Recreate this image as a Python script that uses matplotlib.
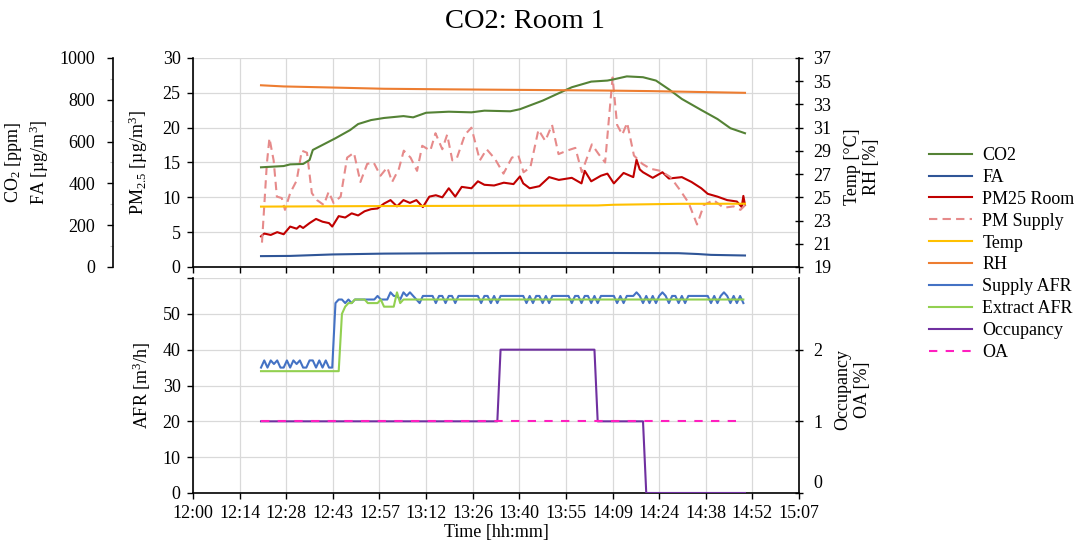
import numpy as np
import matplotlib
matplotlib.use("Agg")
import matplotlib.pyplot as plt
import matplotlib.transforms as mtransforms
from matplotlib.ticker import MultipleLocator

plt.rcParams['font.family'] = ['Liberation Serif', 'DejaVu Serif']
plt.rcParams['mathtext.fontset'] = 'custom'
plt.rcParams['mathtext.rm'] = 'Liberation Serif'
plt.rcParams['mathtext.it'] = 'Liberation Serif:italic'
plt.rcParams['font.size'] = 13

# time axis: minutes after 12:00
x_tick_labels = ["12:00", "12:14", "12:28", "12:43", "12:57", "13:12", "13:26",
                 "13:40", "13:55", "14:09", "14:24", "14:38", "14:52", "15:07"]

# --- top panel data ---
co2_t = [21, 28, 30, 34, 36, 37, 40, 44, 48.5, 51, 55, 59, 65, 68, 72, 79, 86, 90,
         98, 101, 108, 117, 123, 128, 130, 134, 139, 143, 147, 151, 157, 162, 166, 170.5]
co2 = [477, 483, 491, 493, 512, 560, 584, 616, 655, 684, 703, 713, 722, 716, 738, 743, 740, 748,
       745, 755, 796, 860, 887, 892, 898, 912, 908, 892, 850, 804, 751, 708, 664, 640]

fa_t = [21, 30, 43, 59, 80, 100, 130, 150, 156, 160, 170.5]
fa = [52, 53, 60, 64, 66, 67, 67, 66, 62, 58, 55]

pm_room_t = [21, 22, 24, 26, 28, 30, 32, 33, 34, 36, 38, 40, 42, 43, 45, 47, 49, 51, 53, 55,
             57, 59, 61, 63, 65, 67, 69, 71, 73, 75, 77, 79, 81, 83, 86, 88, 90, 93, 96, 99,
             101, 102, 104, 107, 110, 113, 117, 120, 121, 123, 126, 128, 130, 133, 136, 137, 138, 139,
             142, 145, 147, 151, 154, 157, 159, 162, 165, 168, 169.5, 170, 170.5]
pm_room = [4.4, 4.8, 4.6, 5.0, 4.7, 5.8, 5.5, 5.9, 5.6, 6.3, 6.9, 6.5, 6.3, 5.8, 7.3, 7.1, 7.7, 7.4, 8.0, 8.3,
           8.4, 9.1, 9.6, 8.7, 9.6, 9.2, 9.6, 8.6, 10.1, 10.3, 10.0, 11.3, 10.1, 11.5, 11.3, 12.3, 11.8, 11.7, 12.1, 11.9,
           13.0, 12.0, 11.3, 11.6, 12.9, 12.5, 12.8, 12.0, 13.8, 12.3, 13.1, 13.4, 12.0, 13.5, 12.9, 15.4, 14.0, 13.6,
           12.8, 13.6, 12.7, 12.9, 12.2, 11.3, 10.5, 10.1, 9.6, 9.4, 8.6, 10.2, 8.9]

pm_sup_t = [21.3, 22.8, 23.6, 24.9, 25.9, 27.4, 28.4, 30, 32, 33.6, 35.2, 36.7, 38.3, 40.4, 41.9,
            43.4, 45.6, 47.6, 49.7, 51.7, 53.8, 55.8, 57.9, 60, 61.5, 63.6, 65.1, 67.2, 69.2, 70.8,
            73.3, 74.9, 77, 78.5, 80.1, 81.4, 84, 86, 88.6, 90.7, 93.3, 95.9, 98.5, 100.5, 102.1,
            104.2, 106.7, 108.8, 110.9, 112.9, 115.5, 118.1, 120.1, 123.2, 125.3, 127.3, 128.4, 129.6, 131, 132.6,
            134.1, 136.2, 138.8, 141.3, 144.4, 147.5, 150.5, 153.1, 155.7, 157.8, 160.8, 163.9, 167, 169.1, 170.6]
pm_sup = [3.5, 14.8, 18.5, 15.3, 10.1, 9.9, 8.2, 10.6, 12.4, 16.7, 16.4, 10.6, 9.6, 8.9, 10.8,
          9.2, 10.1, 15.7, 16.4, 12.2, 14.8, 15.0, 13.1, 14.3, 12.2, 14.1, 16.7, 15.7, 13.8, 17.4,
          16.7, 19.2, 16.9, 19.0, 15.3, 15.5, 19.0, 20.0, 15.3, 16.9, 15.5, 13.4, 15.7, 16.0, 13.6,
          14.3, 19.7, 18.1, 20.4, 16.2, 16.7, 17.1, 13.6, 17.6, 16.2, 15.0, 20.9, 27.2, 20.4, 19.0,
          20.7, 16.0, 14.8, 14.1, 13.8, 12.9, 11.0, 9.2, 6.1, 8.9, 9.6, 8.5, 8.7, 8.2, 8.9]

temp_t = [21, 60, 100, 125, 130, 150, 170.5]
temp = [24.2, 24.25, 24.28, 24.3, 24.36, 24.44, 24.45]

rh_t = [21, 28, 44, 59, 79, 126, 141, 170.5]
rh = [34.65, 34.55, 34.45, 34.35, 34.3, 34.2, 34.15, 34.0]

# --- bottom panel data (1-minute samples, 12:21 .. 14:50) ---
afr_t = list(range(21, 171))
supply_afr = ([35, 37, 35, 37, 36, 37, 35, 35, 37, 35, 37, 36, 37, 35, 35, 37, 37, 35, 37, 35, 37, 35, 35]
              + [53, 54, 54, 53, 54, 53, 54, 54, 54, 54, 54, 54, 54, 55, 54, 54, 54]
              + [56, 55, 55, 54, 56, 55, 56, 55, 54, 53, 55, 55, 55, 55, 53, 55, 55, 53, 55, 55]
              + [53, 55, 55, 55, 55, 55, 55, 55, 53, 55, 55, 53, 55, 53, 55, 55, 55, 55, 55, 55]
              + [55, 55, 53, 55, 53, 55, 55, 53, 55, 53, 55, 55, 55, 55, 55, 55, 53, 55, 55, 53]
              + [55, 55, 53, 55, 53, 55, 55, 55, 55, 55, 53, 55, 53, 55, 55, 55, 56, 55, 53, 55]
              + [53, 55, 53, 55, 56, 55, 53, 55, 55, 53, 55, 53, 55, 55, 55, 55, 55, 55, 55, 53]
              + [55, 53, 55, 56, 55, 53, 55, 53, 55, 53])
extract_afr = ([34] * 25 + [50, 52, 53, 53, 54, 54, 54, 54, 53, 53, 53, 53, 54, 52, 52, 52, 52, 56, 53]
               + [54] * 106)

occ_t = [21, 94, 95, 124, 125, 139, 140, 170.5]
occupancy = [1, 1, 2, 2, 1, 1, 0, 0]

oa_t = [21, 169]
oa = [1, 1]

GRID = '#d9d9d9'
x_ticks = np.arange(len(x_tick_labels)) * 14.4

fig = plt.figure(figsize=(10.76, 5.43), dpi=100)
ax1 = fig.add_axes([0.1794, 0.5083, 0.5632, 0.3849])
ax2 = fig.add_axes([0.1794, 0.0921, 0.5632, 0.3959])

# ---------------- top panel ----------------
ax_co2 = ax1.twinx()
ax_t = ax1.twinx()

l_co2, = ax_co2.plot(co2_t, co2, color='#548235', lw=1.5, label='CO2')
l_fa, = ax_co2.plot(fa_t, fa, color='#2f5597', lw=1.5, label='FA')
l_pmr, = ax1.plot(pm_room_t, pm_room, color='#c00000', lw=1.5, label='PM25 Room')
l_pms, = ax1.plot(pm_sup_t, pm_sup, color='#e68a8a', lw=1.5, ls=(0, (4, 2.5)), label='PM Supply')
l_temp, = ax_t.plot(temp_t, temp, color='#ffc000', lw=1.5, label='Temp')
l_rh, = ax_t.plot(rh_t, rh, color='#ed7d31', lw=1.5, label='RH')

ax1.set_xlim(0, 187.2)
ax1.set_ylim(0, 30)
ax1.set_yticks(range(0, 31, 5))
ax1.set_xticks(x_ticks)
ax1.tick_params(axis='x', labelbottom=False, length=4, width=1)
ax1.tick_params(axis='y', length=4, width=1, pad=5)
ax1.grid(True, color=GRID, lw=0.9)
ax1.set_axisbelow(True)
ax1.spines['top'].set_visible(False)
ax1.spines['right'].set_visible(False)
for s in ('left', 'bottom'):
    ax1.spines[s].set_linewidth(1.2)
ax1.set_ylabel('PM$_{2.5}$ [µg/m$^3$]')
ax1.yaxis.set_label_coords(-0.091, 0.5)
ax1.yaxis.label.set_verticalalignment('center')

ax_co2.set_ylim(0, 1000)
ax_co2.set_yticks(range(0, 1001, 200))
ax_co2.yaxis.set_minor_locator(MultipleLocator(100))
ax_co2.yaxis.tick_left()
ax_co2.yaxis.set_label_position('left')
ax_co2.spines['left'].set_position(('axes', -0.132))
ax_co2.spines['left'].set_visible(True)
ax_co2.spines['left'].set_linewidth(1.2)
for s in ('right', 'top', 'bottom'):
    ax_co2.spines[s].set_visible(False)
ax_co2.tick_params(axis='y', which='major', length=4, width=1, pad=9)
ax_co2.tick_params(axis='y', which='minor', length=2, width=0.8, color='#bbbbbb')
ax_co2.set_ylabel('CO$_2$ [ppm]\nFA [µg/m$^3$]')
ax_co2.yaxis.set_label_coords(-0.274, 0.5)
ax_co2.yaxis.label.set_verticalalignment('center')

ax_t.set_ylim(19, 37)
ax_t.set_yticks(range(19, 38, 2))
ax_t.spines['right'].set_linewidth(1.2)
for s in ('left', 'top', 'bottom'):
    ax_t.spines[s].set_visible(False)
ax_t.tick_params(axis='y', direction='inout', length=6, width=1, pad=7)
ax_t.set_ylabel('Temp [°C]\nRH [%]')
ax_t.yaxis.set_label_coords(1.104, 0.48)
ax_t.yaxis.label.set_verticalalignment('center')

# ---------------- bottom panel ----------------
ax_o = ax2.twinx()
l_sup, = ax2.plot(afr_t, supply_afr, color='#4472c4', lw=1.5, label='Supply AFR')
l_ext, = ax2.plot(afr_t, extract_afr, color='#92d050', lw=1.5, label='Extract AFR')
l_occ, = ax_o.plot(occ_t, occupancy, color='#7030a0', lw=1.5, label='Occupancy')
l_oa, = ax_o.plot(oa_t, oa, color='#ff1fbf', lw=1.5, ls=(0, (4, 4)), label='OA')

ax2.set_xlim(0, 187.2)
ax2.set_ylim(0, 60)
ax2.set_yticks(range(0, 61, 10))
ax2.set_yticklabels(['0', '10', '20', '30', '40', '50', ''])
ax2.set_xticks(x_ticks)
ax2.set_xticklabels(x_tick_labels)
ax2.tick_params(axis='x', length=4, width=1, pad=5)
ax2.tick_params(axis='y', length=4, width=1, pad=5)
ax2.grid(True, color=GRID, lw=0.9)
ax2.set_axisbelow(True)
ax2.spines['top'].set_visible(False)
ax2.spines['right'].set_visible(False)
for s in ('left', 'bottom'):
    ax2.spines[s].set_linewidth(1.2)
ax2.set_ylabel('AFR [m$^3$/h]')
ax2.yaxis.set_label_coords(-0.084, 0.5)
ax2.yaxis.label.set_verticalalignment('center')
ax2.set_xlabel('Time [hh:mm]', labelpad=1)

ax_o.set_ylim(0, 3)
ax_o.set_yticks([0, 1, 2])
ax_o.spines['right'].set_linewidth(1.2)
for s in ('left', 'top', 'bottom'):
    ax_o.spines[s].set_visible(False)
ax_o.tick_params(axis='y', direction='inout', length=6, width=1, pad=7)
ax_o.set_ylabel('Occupancy\nOA [%]')
ax_o.yaxis.set_label_coords(1.089, 0.48)
ax_o.yaxis.label.set_verticalalignment('center')
# the "0" label sits a little above its tick in the original
zero_tick = ax_o.yaxis.get_major_ticks()[0]
zero_tick.label2.set_transform(zero_tick.label2.get_transform()
                               + mtransforms.ScaledTranslation(0, 8 / 72, fig.dpi_scale_trans))

fig.text(525 / 1076, 1 - 22 / 543, 'CO2: Room 1', ha='center', va='center', fontsize=20.5)

handles = [l_co2, l_fa, l_pmr, l_pms, l_temp, l_rh, l_sup, l_ext, l_occ, l_oa]
fig.legend(handles, [h.get_label() for h in handles], loc='upper left',
           bbox_to_anchor=(929 / 1076, 1 - 147 / 543), frameon=False, borderpad=0,
           handlelength=2.4, handletextpad=0.55, labelspacing=0.27, borderaxespad=0)

fig.savefig('out.png', dpi=100)
